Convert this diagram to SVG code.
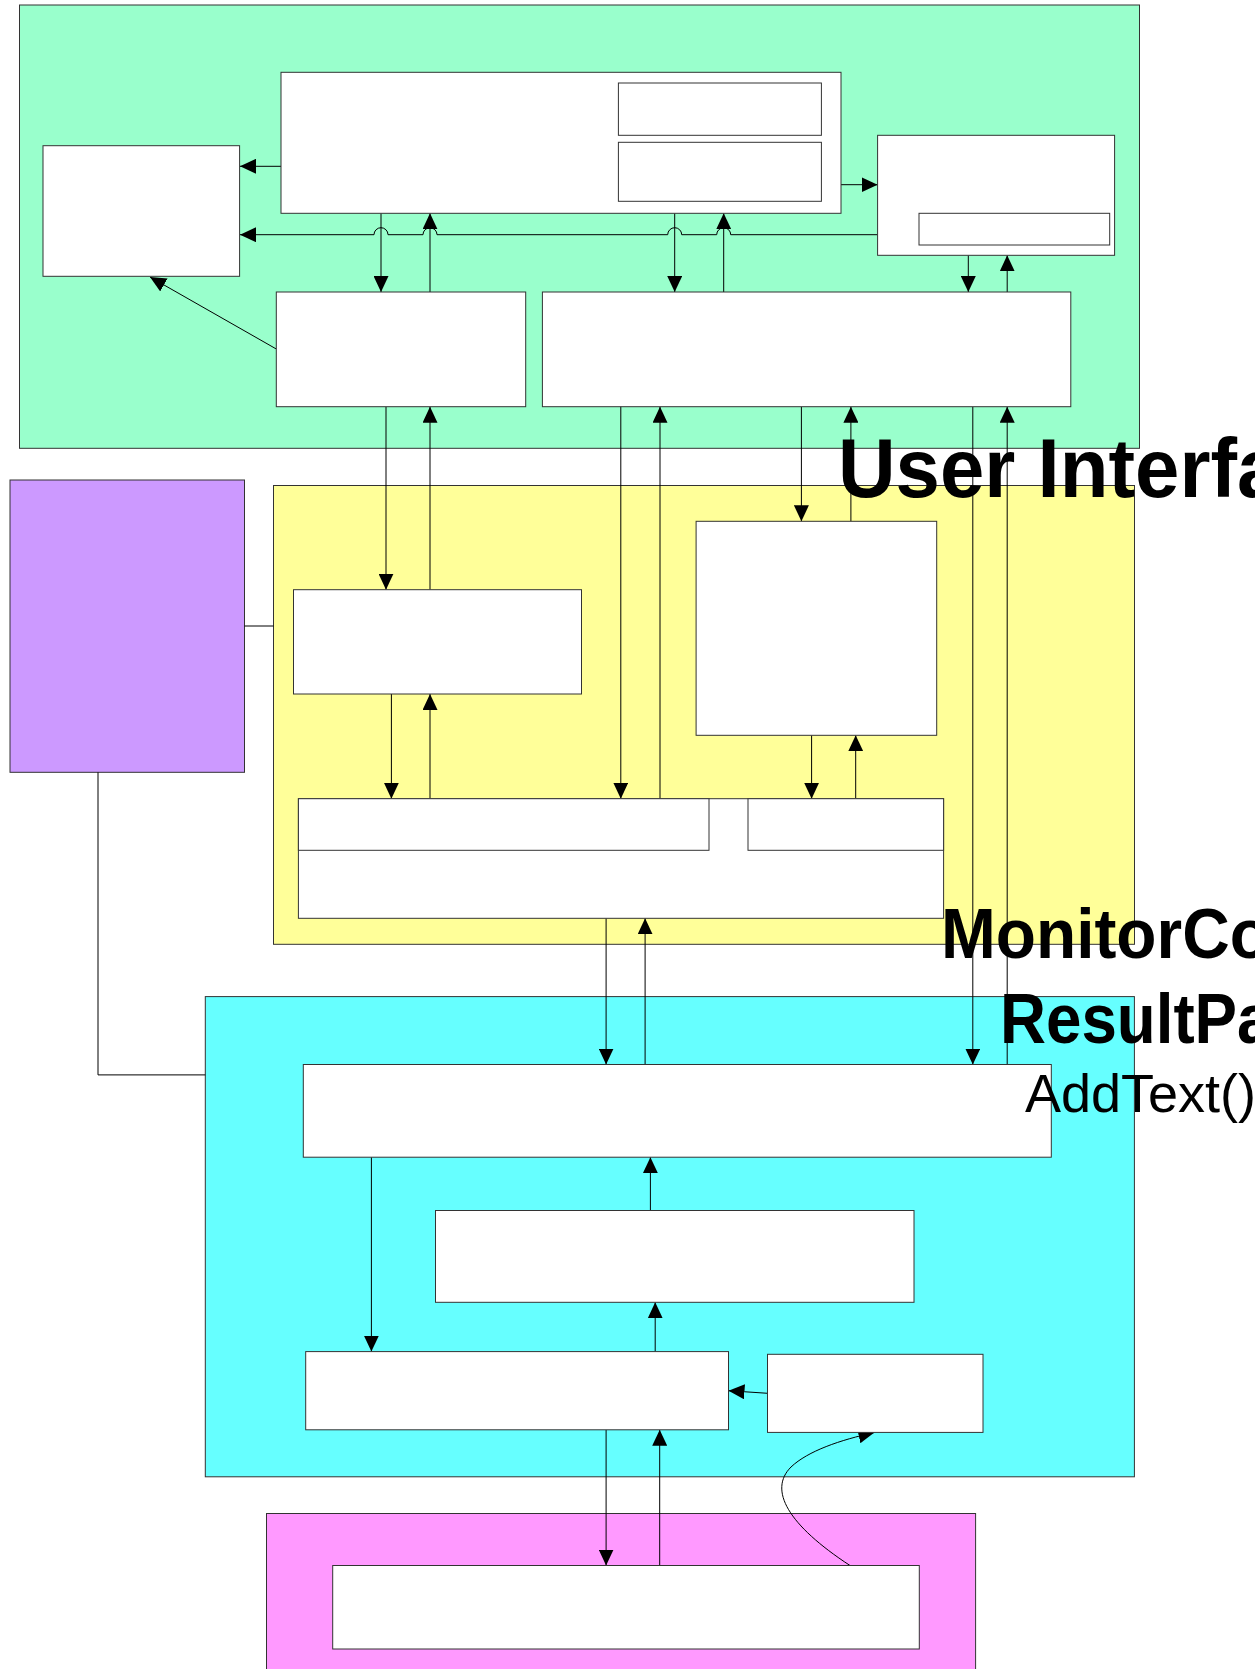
<svg xmlns="http://www.w3.org/2000/svg" width="1255" height="1669" viewBox="0 0 1255 1669">
<style>
.cont{stroke:#333;stroke-width:1}
.node{fill:#fff;stroke:#333;stroke-width:1}
.con{fill:none;stroke:#000;stroke-width:1}
.lbl{font-family:"Liberation Sans",Arial,sans-serif;fill:#000}
</style>
<defs>
<marker id="ah" markerUnits="userSpaceOnUse" markerWidth="16" markerHeight="15" refX="16" refY="7.5" orient="auto">
<path d="M0,0 L16,7.5 L0,15 z" fill="#000"/>
</marker>
</defs>
<rect width="1255" height="1669" fill="#fff"/>
<g id="containers">
<rect id="c_ui" class="cont" x="19.5" y="5" width="1120" height="443.3" fill="#99FFCC"/>
<rect id="c_purple" class="cont" x="10" y="480" width="234.5" height="292.3" fill="#CC99FF"/>
<rect id="c_monitor" class="cont" x="273.5" y="485.5" width="861" height="458.8" fill="#FFFF99"/>
<rect id="c_result" class="cont" x="205.3" y="996.6" width="929.1" height="480.2" fill="#66FFFF"/>
<rect id="c_pink" class="cont" x="266.5" y="1513.5" width="709.1" height="170" fill="#FF99FF"/>
</g>
<g id="connectors">
<path class="con" d="M281,166.3 H240" marker-end="url(#ah)"/>
<path class="con" d="M877.6,234.7 H730.7 A7,7 0 0 0 716.7,234.7 H681.7 A7,7 0 0 0 667.7,234.7 H437 A7,7 0 0 0 423,234.7 H388 A7,7 0 0 0 374,234.7 H240" marker-end="url(#ah)"/>
<path class="con" d="M841,184.7 H877.6" marker-end="url(#ah)"/>
<path class="con" d="M381,213.3 V292" marker-end="url(#ah)"/>
<path class="con" d="M430,292 V213.3" marker-end="url(#ah)"/>
<path class="con" d="M674.7,213.3 V292" marker-end="url(#ah)"/>
<path class="con" d="M723.7,292 V213.3" marker-end="url(#ah)"/>
<path class="con" d="M968.3,255.3 V292" marker-end="url(#ah)"/>
<path class="con" d="M1007.2,292 V255.3" marker-end="url(#ah)"/>
<path class="con" d="M276.3,349 L150,277" marker-end="url(#ah)"/>
<path class="con" d="M386,406.7 V589.7" marker-end="url(#ah)"/>
<path class="con" d="M430,589.7 V406.7" marker-end="url(#ah)"/>
<path class="con" d="M391.4,694 V798.7" marker-end="url(#ah)"/>
<path class="con" d="M430,798.7 V694" marker-end="url(#ah)"/>
<path class="con" d="M620.8,404 V798.7" marker-end="url(#ah)"/>
<path class="con" d="M660,801 V406.7" marker-end="url(#ah)"/>
<path class="con" d="M801.4,406.7 V521.3" marker-end="url(#ah)"/>
<path class="con" d="M850.9,521.3 V406.7" marker-end="url(#ah)"/>
<path class="con" d="M811.6,735.3 V798.7" marker-end="url(#ah)"/>
<path class="con" d="M855.7,798.7 V735.3" marker-end="url(#ah)"/>
<path class="con" d="M972.8,406.7 V1064.5" marker-end="url(#ah)"/>
<path class="con" d="M1007.2,1064.5 V406.7" marker-end="url(#ah)"/>
<path class="con" d="M244.5,626 H273.5"/>
<path class="con" d="M98,772.3 V1074.9 H205.3"/>
<path class="con" d="M606.1,918.3 V1064.5" marker-end="url(#ah)"/>
<path class="con" d="M645.1,1064.5 V918.3" marker-end="url(#ah)"/>
<path class="con" d="M371.4,1157.2 V1351.6" marker-end="url(#ah)"/>
<path class="con" d="M650.4,1210.5 V1157.2" marker-end="url(#ah)"/>
<path class="con" d="M655.2,1351.6 V1302.3" marker-end="url(#ah)"/>
<path class="con" d="M767.7,1393.3 L728.5,1390.7" marker-end="url(#ah)"/>
<path class="con" d="M606.1,1429.8 V1565.5" marker-end="url(#ah)"/>
<path class="con" d="M659.7,1565.5 V1429.8" marker-end="url(#ah)"/>
<path class="con" d="M850,1565.5 C788,1525 768,1490 791,1467 C808,1451 840,1440 874.4,1432.5" marker-end="url(#ah)"/>
</g>
<g id="n_main"><rect class="node" x="281" y="72.3" width="560" height="141"/></g>
<g id="n_sub1"><rect class="node" x="618.4" y="83" width="203" height="52.3"/></g>
<g id="n_sub2"><rect class="node" x="618.4" y="142.3" width="203" height="59"/></g>
<g id="n_left"><rect class="node" x="43" y="145.7" width="196.6" height="130.6"/></g>
<g id="n_c"><rect class="node" x="877.6" y="135.3" width="237" height="120"/></g>
<g id="n_csub"><rect class="node" x="919" y="213.3" width="190.7" height="31.7"/></g>
<g id="n_b1"><rect class="node" x="276.3" y="292" width="249.4" height="114.7"/></g>
<g id="n_b2"><rect class="node" x="542.4" y="292" width="528.4" height="114.7"/></g>
<g id="n_d"><rect class="node" x="293.5" y="589.7" width="288" height="104.3"/></g>
<g id="n_f"><rect class="node" x="696.1" y="521.3" width="240.6" height="214"/></g>
<g id="n_e">
<rect class="node" x="298.4" y="798.7" width="645.2" height="119.6"/>
<rect class="node" x="298.4" y="798.7" width="410.6" height="51.6"/>
<rect class="node" x="748" y="798.7" width="195.6" height="51.6"/>
</g>
<g id="n_g"><rect class="node" x="303.3" y="1064.5" width="748" height="92.7"/></g>
<g id="n_h"><rect class="node" x="435.5" y="1210.5" width="478.5" height="91.8"/></g>
<g id="n_i"><rect class="node" x="305.7" y="1351.6" width="422.8" height="78.2"/></g>
<g id="n_j"><rect class="node" x="767.5" y="1354.3" width="215.5" height="78.1"/></g>
<g id="n_k"><rect class="node" x="332.7" y="1565.5" width="586.6" height="83.5"/></g>
<g id="labels">
<text class="lbl" transform="translate(838,497) scale(0.95,1)" font-size="84" font-weight="bold">User Interfa</text>
<text class="lbl" transform="translate(941,958) scale(0.94,1)" font-size="70" font-weight="bold">MonitorCo</text>
<text class="lbl" transform="translate(1000,1043) scale(0.91,1)" font-size="70" font-weight="bold">ResultPa</text>
<text class="lbl" x="1025" y="1112" font-size="54">AddText()</text>
</g>
</svg>
